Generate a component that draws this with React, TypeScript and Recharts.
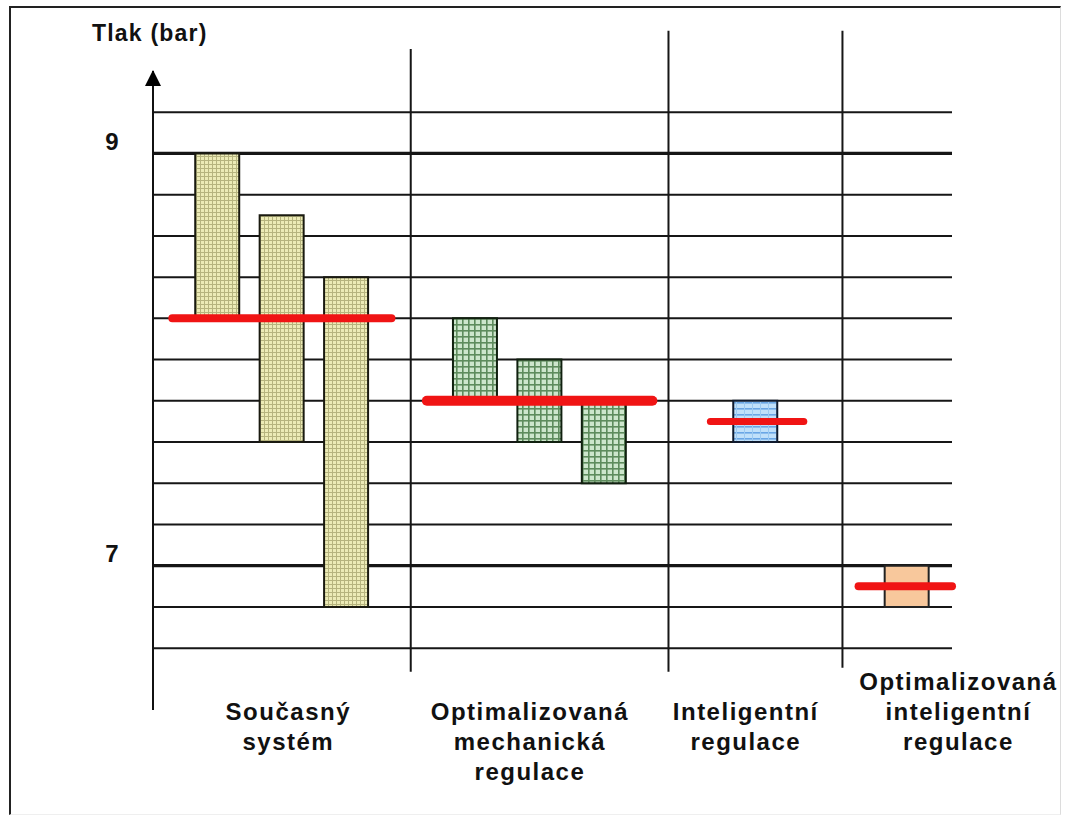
import React from 'react';
import {
  ComposedChart,
  Bar,
  Cell,
  XAxis,
  YAxis,
  CartesianGrid,
  ReferenceLine,
  ReferenceDot,
} from 'recharts';

// Variants of compressor control (category labels, one entry per line)
const categoryLines: string[][] = [
  ['Současný', 'systém'],
  ['Optimalizovaná', 'mechanická', 'regulace'],
  ['Inteligentní', 'regulace'],
  ['Optimalizovaná', 'inteligentní', 'regulace'],
];
// Where each category caption sits on the horizontal axis
const categoryCenters = [2.1, 5.85, 9.2, 12.5];

// One column per compressor: its slot on the axis and the variant it belongs to
const columnSlots = [1, 2, 3, 5, 6, 7, 9.35, 11.7];
const columnGroup = [0, 0, 0, 1, 1, 1, 2, 3];
// Pressure band of each column (bar)
const pressureHigh = [9.0, 8.7, 8.4, 8.2, 8.0, 7.8, 7.8, 7.0];
const pressureLow = [8.2, 7.6, 6.8, 7.8, 7.6, 7.4, 7.6, 6.8];

// Resulting network pressure per variant (bar) and the span of its marker
const networkPressure = [8.2, 7.8, 7.7, 6.9];
const networkFrom = [0.3, 4.25, 8.65, 10.95];
const networkTo = [3.7, 7.75, 10.1, 12.4];

// Pressure scale
const pressureTicks = [6.6, 6.8, 7.0, 7.2, 7.4, 7.6, 7.8, 8.0, 8.2, 8.4, 8.6, 8.8, 9.0, 9.2];
const labelledTicks = [7, 9];

// Dividers between variants
const dividerSlots = [4, 8, 10.7];

// ---- styling ----
const FONT = "'Liberation Sans', Arial, Helvetica, sans-serif";
const GROUP_FILLS = ['url(#fillDots)', 'url(#fillGreen)', 'url(#fillBlue)', '#f8c89c'];
const GROUP_STROKES = ['#1a1a10', '#10200f', '#0f1a2e', '#222'];
const MARKER_WIDTHS = [8, 10, 7, 8];
const DIVIDER_TOP = [9.507, 9.595, 9.595];
const DIVIDER_BOTTOM = [6.485, 6.485, 6.505];
const LABEL_LINE_SHIFT = [0, 0, 0, -1];
const X_DOMAIN: [number, number] = [0, 12.4];
const Y_DOMAIN: [number, number] = [6.3, 9.4];

const columns = columnSlots.map((slot, i) => ({
  slot,
  band: [pressureLow[i], pressureHigh[i]],
  group: columnGroup[i],
}));

const PressureTick = (props: any) => {
  const v = Number(props.payload?.value);
  if (!labelledTicks.some((t) => Math.abs(t - v) < 1e-6)) return <g />;
  return (
    <text
      x={112}
      y={props.y - 12}
      textAnchor="middle"
      dominantBaseline="central"
      fontFamily={FONT}
      fontWeight="bold"
      fontSize={24}
      fill="#111"
    >
      {String(Math.round(v))}
    </text>
  );
};

const CategoryTick = (props: any) => {
  const v = Number(props.payload?.value);
  const idx = categoryCenters.findIndex((c) => Math.abs(c - v) < 1e-6);
  if (idx < 0) return <g />;
  const lines = categoryLines[idx];
  const firstBaseline = 720 + LABEL_LINE_SHIFT[idx] * 30;
  return (
    <text
      x={props.x}
      y={firstBaseline}
      textAnchor="middle"
      fontFamily={FONT}
      fontWeight="bold"
      fontSize={24}
      letterSpacing={1.5}
      fill="#111"
    >
      {lines.map((line, j) => (
        <tspan key={j} x={props.x} y={firstBaseline + j * 30}>
          {line}
        </tspan>
      ))}
    </text>
  );
};

// Horizontal rules: only at the pressure ticks, heavier at the whole-bar values
const GridLine = (props: any) => {
  const { x1, x2, y1, y2, index, y, height } = props;
  const [lo, hi] = Y_DOMAIN;
  const value = hi - ((y1 - y) / height) * (hi - lo);
  const onTick = pressureTicks.some((t) => Math.abs(t - value) < 0.02);
  if (!onTick) return <g key={`g-${index}`} />;
  const heavy = labelledTicks.some((t) => Math.abs(t - value) < 0.02);
  return (
    <line
      key={`g-${index}`}
      x1={x1}
      x2={x2}
      y1={y1}
      y2={y2}
      stroke="#161616"
      strokeWidth={heavy ? 3.2 : 2}
    />
  );
};

const AxisArrow = (props: any) => {
  const { cx, cy } = props;
  return (
    <polygon
      points={`${cx},${cy - 1} ${cx - 8},${cy + 15} ${cx + 8},${cy + 15}`}
      fill="#000"
    />
  );
};

const AxisTitle = () => (
  <text
    x={92}
    y={41}
    fontFamily={FONT}
    fontWeight="bold"
    fontSize={23}
    letterSpacing={1.2}
    fill="#111"
  >
    Tlak (bar)
  </text>
);

export default function App() {
  return (
    <div style={{ position: 'absolute', left: 0, top: 0, width: 1066, height: 821, background: '#fff' }}>
      <div
        style={{
          position: 'absolute',
          left: 9,
          top: 6,
          width: 1049,
          height: 806,
          borderLeft: '2px solid #222',
          borderTop: '2px solid #222',
          borderRight: '1px solid #dcdcdc',
          borderBottom: '1px solid #efefef',
        }}
      />
      <div style={{ position: 'absolute', left: 0, top: 0 }}>
        <ComposedChart
          width={1066}
          height={821}
          data={columns}
          margin={{ top: 71, right: 114, bottom: 51, left: 93 }}
        >
          <defs>
            <pattern id="fillDots" width="4" height="4" patternUnits="userSpaceOnUse">
              <rect width="4" height="4" fill="#ecebb6" />
              <rect width="4" height="1" fill="#b6b47e" />
              <rect width="1" height="4" fill="#b6b47e" />
            </pattern>
            <pattern id="fillGreen" width="6" height="6" patternUnits="userSpaceOnUse">
              <rect width="6" height="6" fill="#cde6cc" />
              <rect width="6" height="1.6" fill="#5e8c5d" />
              <rect width="1.6" height="6" fill="#5e8c5d" />
            </pattern>
            <pattern id="fillBlue" width="8" height="6" patternUnits="userSpaceOnUse">
              <rect width="8" height="6" fill="#c0e0fa" />
              <rect width="8" height="1.6" fill="#6aa6e6" />
              <rect width="1" height="6" fill="#9ccaf2" />
            </pattern>
          </defs>

          <CartesianGrid vertical={false} horizontal={GridLine} />

          <XAxis
            type="number"
            dataKey="slot"
            domain={X_DOMAIN}
            allowDataOverflow
            ticks={categoryCenters}
            interval={0}
            axisLine={false}
            tickLine={false}
            height={60}
            tick={CategoryTick}
          />
          <YAxis
            type="number"
            domain={Y_DOMAIN}
            allowDataOverflow
            ticks={pressureTicks}
            interval={0}
            tickLine={false}
            axisLine={{ stroke: '#111', strokeWidth: 2 }}
            width={60}
            tick={PressureTick}
            label={{ content: AxisTitle }}
          />

          {dividerSlots.map((x, i) => (
            <ReferenceLine
              key={`div-${i}`}
              segment={[
                { x, y: DIVIDER_TOP[i] },
                { x, y: DIVIDER_BOTTOM[i] },
              ]}
              ifOverflow="visible"
              stroke="#161616"
              strokeWidth={2}
            />
          ))}

          <Bar dataKey="band" barSize={44} isAnimationActive={false} strokeWidth={2}>
            {columns.map((c, i) => (
              <Cell key={`c-${i}`} fill={GROUP_FILLS[c.group]} stroke={GROUP_STROKES[c.group]} />
            ))}
          </Bar>

          {networkPressure.map((p, i) => (
            <ReferenceLine
              key={`net-${i}`}
              segment={[
                { x: networkFrom[i], y: p },
                { x: networkTo[i], y: p },
              ]}
              ifOverflow="visible"
              stroke="#f01414"
              strokeWidth={MARKER_WIDTHS[i]}
              strokeLinecap="round"
              zIndex={1500}
            />
          ))}

          <ReferenceDot x={0} y={9.4} ifOverflow="visible" shape={AxisArrow} />
        </ComposedChart>
      </div>
    </div>
  );
}
